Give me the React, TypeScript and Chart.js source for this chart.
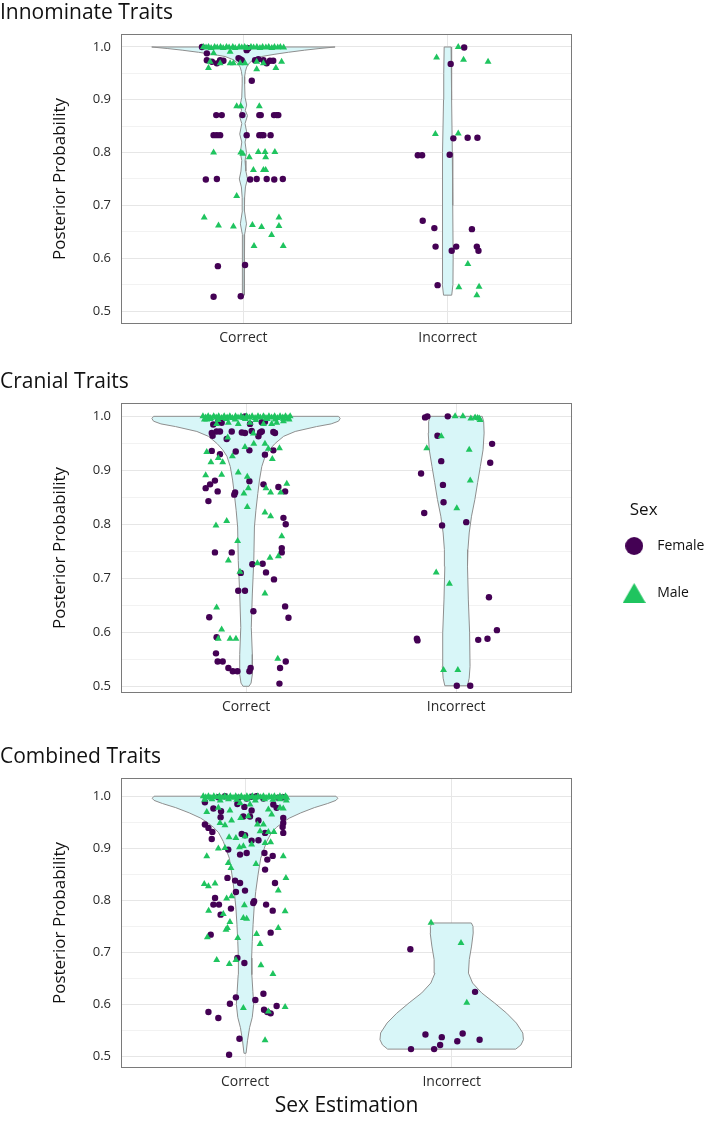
import React, { useEffect, useRef } from 'react';
import { Chart, registerables } from 'chart.js';

Chart.register(...registerables);

const FONT = "'Open Sans', 'Noto Sans', sans-serif";
const CATEGORIES = ['Correct', 'Incorrect'];
const CATEGORY_POS = [1, 2];
const Y_TICKS = [0.5, 0.55, 0.6, 0.65, 0.7, 0.75, 0.8, 0.85, 0.9, 0.95, 1.0];
const SEX_LABELS = ['Female', 'Male'];
const LEGEND_TITLE = 'Sex';
const Y_TITLE = 'Posterior Probability';
const X_TITLE = 'Sex Estimation';
const PANEL_TITLES = ['Innominate Traits', 'Cranial Traits', 'Combined Traits'];

const FEMALE_COLOR = '#440154';
const MALE_COLOR = '#1fc45f';
const VIOLIN_FILL = '#d8f6f8';
const VIOLIN_LINE = '#8e8e8e';
const FRAME_COLOR = '#7a7a7a';
const GRID_MAJOR = '#e6e6e6';
const GRID_MINOR = '#f2f2f2';
const TEXT_COLOR = '#111111';
const TICK_COLOR = '#2a2a2a';

// Violin outlines: [posterior probability, half width in category units], top to bottom
const INN_VIOLIN_CORRECT = [[1.0,0.449],[0.997,0.37],[0.994,0.3],[0.99,0.22],[0.986,0.15],[0.982,0.09],[0.976,0.05],[0.97,0.03],[0.962,0.016],[0.954,0.01],[0.944,0.006],[0.93,0.006],[0.905,0.008],[0.89,0.016],[0.88,0.009],[0.87,0.02],[0.855,0.008],[0.835,0.018],[0.82,0.008],[0.8,0.015],[0.785,0.008],[0.765,0.012],[0.75,0.02],[0.735,0.01],[0.715,0.006],[0.69,0.005],[0.665,0.015],[0.645,0.006],[0.62,0.004],[0.585,0.006],[0.56,0.004],[0.53,0.003]];
const INN_VIOLIN_INCORRECT = [[1.0,0.017],[0.95,0.019],[0.9,0.02],[0.8,0.023],[0.7,0.025],[0.6,0.027],[0.55,0.026],[0.53,0.02]];
const CRA_VIOLIN_CORRECT = [[1.0,0.44],[0.996,0.448],[0.991,0.44],[0.986,0.405],[0.981,0.335],[0.972,0.234],[0.963,0.179],[0.95,0.139],[0.938,0.111],[0.926,0.091],[0.907,0.075],[0.882,0.064],[0.857,0.056],[0.826,0.047],[0.795,0.04],[0.733,0.037],[0.671,0.03],[0.609,0.025],[0.559,0.03],[0.522,0.03],[0.506,0.024],[0.5,0.014]];
const CRA_VIOLIN_INCORRECT = [[1.0,0.124],[0.99,0.131],[0.969,0.133],[0.938,0.128],[0.907,0.115],[0.877,0.102],[0.846,0.089],[0.815,0.073],[0.784,0.062],[0.753,0.056],[0.722,0.054],[0.66,0.058],[0.599,0.064],[0.537,0.066],[0.515,0.062],[0.501,0.054]];
const CMB_VIOLIN_CORRECT = [[1.0,0.44],[0.996,0.449],[0.992,0.44],[0.986,0.4],[0.978,0.335],[0.968,0.27],[0.958,0.215],[0.949,0.18],[0.94,0.152],[0.93,0.128],[0.913,0.105],[0.881,0.076],[0.849,0.063],[0.817,0.052],[0.785,0.044],[0.753,0.039],[0.721,0.035],[0.689,0.032],[0.657,0.033],[0.625,0.038],[0.6,0.042],[0.575,0.035],[0.555,0.022],[0.53,0.012],[0.506,0.005]];
const CMB_VIOLIN_INCORRECT = [[0.7564,0.095],[0.75,0.103],[0.737,0.104],[0.712,0.096],[0.686,0.085],[0.66,0.081],[0.641,0.101],[0.622,0.145],[0.603,0.206],[0.583,0.266],[0.564,0.313],[0.545,0.344],[0.532,0.347],[0.522,0.335],[0.514,0.31]];

// Individuals: [jitter offset from category, posterior probability]
const INN_FEMALE_CORRECT = [[-0.203,1.0],[0.024,0.9975],[0.016,0.994],[-0.179,0.988],[-0.179,0.975],[-0.154,0.972],[-0.13,0.969],[-0.114,0.975],[-0.098,0.974],[-0.024,0.979],[-0.016,0.977],[-0.008,0.975],[0.057,0.975],[0.073,0.977],[0.098,0.975],[0.114,0.969],[0.13,0.974],[0.146,0.974],[0.041,0.936],[-0.133,0.871],[-0.106,0.871],[-0.005,0.871],[0.078,0.871],[0.085,0.871],[0.15,0.871],[0.163,0.871],[0.171,0.871],[-0.146,0.833],[-0.13,0.833],[-0.114,0.833],[0.016,0.833],[0.078,0.833],[0.089,0.833],[0.098,0.833],[0.133,0.833],[-0.184,0.749],[-0.13,0.75],[0.033,0.749],[0.065,0.75],[0.114,0.75],[0.151,0.749],[0.193,0.75],[-0.125,0.585],[0.008,0.587],[-0.146,0.527],[-0.013,0.528]];
const INN_MALE_CORRECT = [[-0.196,1.0],[-0.183,0.999],[-0.171,1.0],[-0.158,0.998],[-0.141,1.0],[-0.128,0.999],[-0.112,1.0],[-0.099,0.998],[-0.083,1.0],[-0.07,0.999],[-0.052,1.0],[-0.04,0.998],[-0.021,1.0],[-0.008,0.999],[0.006,1.0],[0.019,0.998],[0.037,1.0],[0.05,0.999],[0.066,1.0],[0.081,0.998],[0.094,1.0],[0.11,0.999],[0.124,1.0],[0.139,0.998],[0.152,1.0],[0.168,0.999],[0.181,1.0],[0.197,0.999],[-0.146,0.988],[-0.065,0.991],[-0.163,0.972],[-0.114,0.969],[-0.065,0.969],[-0.049,0.969],[-0.016,0.969],[0.008,0.969],[0.065,0.972],[0.098,0.969],[0.187,0.972],[-0.171,0.96],[0.065,0.958],[0.159,0.96],[-0.033,0.888],[-0.013,0.888],[0.078,0.888],[-0.146,0.8],[-0.013,0.8],[-0.003,0.798],[0.073,0.801],[0.106,0.801],[0.154,0.801],[0.029,0.791],[0.109,0.791],[0.049,0.767],[0.098,0.767],[0.109,0.767],[-0.033,0.718],[-0.192,0.677],[0.174,0.677],[-0.122,0.662],[-0.049,0.66],[0.044,0.663],[0.089,0.659],[0.174,0.661],[0.138,0.644],[0.052,0.623],[0.195,0.623]];
const INN_FEMALE_INCORRECT = [[0.081,0.999],[0.015,0.968],[0.028,0.827],[0.098,0.828],[0.146,0.828],[-0.146,0.795],[-0.125,0.795],[0.01,0.796],[-0.122,0.671],[-0.065,0.657],[0.119,0.655],[-0.059,0.622],[0.042,0.622],[0.02,0.614],[0.143,0.622],[0.151,0.614],[-0.049,0.549]];
const INN_MALE_INCORRECT = [[0.052,1.0],[-0.054,0.98],[0.078,0.976],[0.198,0.972],[-0.06,0.835],[0.052,0.836],[0.099,0.589],[0.055,0.545],[0.154,0.546],[0.143,0.53]];

const CRA_FEMALE_CORRECT = [[-0.005,1.0],[0.09,0.99],[-0.156,0.985],[-0.116,0.988],[0.019,0.986],[0.075,0.989],[-0.132,0.991],[-0.163,0.969],[-0.14,0.972],[-0.124,0.972],[-0.068,0.972],[-0.005,0.969],[0.067,0.97],[0.075,0.972],[0.13,0.971],[0.138,0.969],[0.059,0.963],[-0.159,0.964],[-0.092,0.958],[0.027,0.973],[-0.02,0.97],[-0.163,0.936],[-0.124,0.93],[-0.049,0.935],[0.016,0.937],[0.09,0.929],[0.13,0.937],[-0.148,0.881],[-0.171,0.874],[-0.192,0.867],[-0.135,0.861],[-0.179,0.843],[-0.052,0.859],[-0.056,0.855],[0.016,0.88],[0.083,0.874],[0.154,0.869],[0.186,0.861],[0.178,0.812],[0.189,0.8],[-0.148,0.748],[-0.068,0.748],[0.17,0.756],[0.17,0.748],[0.03,0.726],[0.079,0.727],[0.095,0.711],[0.133,0.698],[-0.025,0.71],[-0.037,0.677],[-0.005,0.677],[-0.175,0.628],[0.035,0.639],[0.186,0.648],[0.202,0.627],[-0.14,0.591],[-0.143,0.561],[-0.135,0.546],[-0.111,0.546],[-0.084,0.534],[-0.063,0.528],[-0.041,0.528],[0.016,0.528],[0.022,0.534],[0.189,0.546],[0.162,0.534],[0.159,0.505]];
const CRA_MALE_CORRECT = [[-0.205,1.0],[-0.192,0.998],[-0.18,1.0],[-0.168,0.997],[-0.154,1.0],[-0.142,0.998],[-0.13,1.0],[-0.116,0.997],[-0.104,1.0],[-0.09,0.998],[-0.077,1.0],[-0.065,0.997],[-0.05,1.0],[-0.038,0.998],[-0.024,1.0],[-0.012,0.997],[0.003,1.0],[0.016,0.998],[0.029,1.0],[0.043,0.997],[0.057,1.0],[0.068,0.998],[0.083,1.0],[0.095,0.997],[0.109,1.0],[0.122,0.998],[0.136,1.0],[0.149,0.997],[0.162,1.0],[0.175,0.998],[0.188,1.0],[0.2,0.997],[0.21,1.0],[-0.198,0.994],[-0.171,0.995],[-0.133,0.993],[-0.094,0.995],[-0.052,0.994],[-0.003,0.995],[0.047,0.993],[0.101,0.995],[0.139,0.994],[0.178,0.995],[0.205,0.994],[-0.187,0.994],[-0.14,0.986],[-0.084,0.988],[-0.037,0.986],[0.019,0.988],[0.083,0.986],[0.122,0.986],[0.146,0.988],[0.178,0.991],[0.035,0.968],[-0.087,0.961],[-0.187,0.934],[-0.065,0.926],[-0.005,0.943],[0.037,0.949],[0.09,0.949],[0.106,0.94],[0.159,0.941],[0.125,0.921],[-0.167,0.915],[-0.132,0.923],[-0.111,0.915],[-0.192,0.891],[-0.116,0.892],[-0.037,0.896],[0.006,0.888],[-0.01,0.857],[0.011,0.867],[0.095,0.867],[0.117,0.859],[0.165,0.859],[0.194,0.875],[0.006,0.832],[0.09,0.822],[0.117,0.815],[-0.143,0.798],[-0.092,0.806],[-0.04,0.769],[0.17,0.778],[-0.084,0.733],[0.154,0.741],[0.114,0.738],[0.054,0.728],[-0.029,0.712],[0.09,0.672],[-0.14,0.646],[-0.116,0.605],[-0.132,0.588],[-0.076,0.588],[-0.048,0.588],[0.151,0.551]];
const CRA_FEMALE_INCORRECT = [[-0.148,0.998],[-0.137,1.0],[-0.04,1.0],[-0.089,0.964],[0.171,0.949],[0.162,0.914],[-0.071,0.917],[-0.167,0.894],[-0.063,0.873],[-0.06,0.841],[-0.152,0.821],[-0.067,0.798],[0.048,0.804],[0.156,0.665],[0.194,0.604],[0.149,0.588],[0.105,0.586],[-0.187,0.588],[-0.184,0.585],[0.003,0.501],[0.067,0.501]];
const CRA_MALE_INCORRECT = [[-0.005,1.0],[0.032,1.0],[0.07,0.996],[0.09,0.998],[0.102,0.997],[0.11,0.996],[0.114,0.993],[-0.071,0.963],[-0.14,0.941],[0.062,0.938],[0.067,0.881],[0.003,0.83],[-0.095,0.711],[-0.032,0.69],[-0.06,0.53],[0.008,0.53]];

const CMB_FEMALE_CORRECT = [[-0.129,0.998],[-0.097,1.0],[-0.032,0.997],[0.008,0.9955],[0.032,0.999],[0.056,1.0],[0.089,0.9955],[0.161,0.997],[0.185,0.998],[-0.194,0.9885],[-0.153,0.9763],[-0.116,0.9712],[-0.037,0.985],[-0.003,0.9795],[0.032,0.9724],[0.137,0.984],[0.153,0.9776],[-0.118,0.9596],[-0.008,0.9609],[0.024,0.9609],[0.065,0.9532],[0.185,0.9583],[0.185,0.9487],[0.182,0.941],[-0.194,0.9455],[-0.177,0.9391],[-0.158,0.9314],[-0.161,0.9179],[-0.016,0.9276],[0.032,0.9147],[0.065,0.9154],[0.097,0.9295],[0.185,0.9295],[0.0,0.925],[-0.081,0.8974],[-0.024,0.8878],[0.008,0.891],[0.094,0.891],[0.108,0.8782],[0.134,0.8853],[-0.085,0.843],[-0.048,0.8378],[-0.024,0.8333],[-0.044,0.816],[0.0,0.8186],[0.097,0.859],[0.145,0.8333],[-0.145,0.8045],[-0.153,0.7917],[-0.126,0.7917],[-0.068,0.784],[0.044,0.7981],[0.04,0.7949],[-0.118,0.7724],[0.102,0.7917],[0.134,0.7801],[-0.166,0.734],[0.124,0.7378],[-0.037,0.6891],[-0.003,0.6795],[-0.044,0.6135],[-0.073,0.6013],[0.089,0.6205],[0.05,0.6083],[0.153,0.5968],[0.092,0.5897],[0.108,0.5853],[0.124,0.5827],[-0.177,0.5853],[-0.129,0.5737],[-0.027,0.534],[-0.077,0.5032]];
const CMB_MALE_CORRECT = [[-0.202,1.0],[-0.19,0.998],[-0.177,1.0],[-0.165,0.997],[-0.151,1.0],[-0.138,0.998],[-0.124,1.0],[-0.111,0.997],[-0.098,1.0],[-0.085,0.998],[-0.071,1.0],[-0.058,0.997],[-0.045,1.0],[-0.031,0.998],[-0.018,1.0],[-0.004,0.997],[0.009,1.0],[0.022,0.998],[0.036,1.0],[0.049,0.997],[0.062,1.0],[0.076,0.998],[0.089,1.0],[0.102,0.997],[0.116,1.0],[0.129,0.998],[0.142,1.0],[0.156,0.997],[0.169,1.0],[0.182,0.998],[0.196,1.0],[0.202,0.997],[-0.195,0.993],[-0.16,0.994],[-0.12,0.992],[-0.08,0.994],[-0.04,0.993],[0.01,0.994],[0.05,0.992],[0.095,0.994],[0.135,0.993],[0.17,0.994],[0.2,0.992],[-0.185,0.9699],[-0.129,0.9776],[-0.073,0.9724],[-0.024,0.987],[0.024,0.984],[0.113,0.9744],[0.169,0.9776],[0.185,0.9763],[0.129,0.9647],[-0.121,0.9487],[-0.097,0.9442],[-0.065,0.9532],[-0.021,0.9583],[0.016,0.9615],[0.06,0.9455],[0.089,0.9455],[0.14,0.9314],[0.113,0.9314],[-0.077,0.9212],[-0.044,0.9199],[0.0,0.9231],[0.032,0.907],[0.073,0.9327],[0.097,0.9103],[0.124,0.9115],[-0.129,0.8994],[-0.097,0.9006],[-0.027,0.9019],[-0.008,0.9038],[-0.081,0.8718],[-0.068,0.8622],[0.053,0.8699],[0.185,0.8846],[-0.185,0.8846],[-0.197,0.8314],[-0.177,0.8269],[-0.145,0.8321],[0.198,0.843],[0.161,0.8186],[-0.089,0.8032],[-0.065,0.8077],[-0.003,0.7904],[-0.176,0.7801],[-0.105,0.7737],[-0.073,0.7583],[0.008,0.7647],[-0.008,0.766],[0.194,0.7788],[-0.085,0.7468],[-0.092,0.7436],[-0.182,0.7288],[-0.035,0.7276],[0.056,0.7353],[0.073,0.716],[0.161,0.7468],[-0.137,0.6853],[-0.076,0.6776],[-0.044,0.6853],[0.077,0.675],[0.135,0.6583],[-0.008,0.5929],[0.194,0.5949],[0.113,0.5865],[0.097,0.5308]];
const CMB_FEMALE_INCORRECT = [[-0.2,0.706],[0.113,0.624],[-0.127,0.542],[-0.048,0.537],[0.053,0.544],[0.027,0.529],[-0.056,0.522],[0.135,0.532],[-0.197,0.514],[-0.085,0.514]];
const CMB_MALE_INCORRECT = [[-0.1,0.757],[0.045,0.718],[0.073,0.603]];

const PAGE_W = 709;
const PLOT_RIGHT = 572;
const Y_AXIS_WIDTH = 121;
const LEGEND_GAP = 13;

const PANELS = [
  { title: PANEL_TITLES[0], vc: INN_VIOLIN_CORRECT, vi: INN_VIOLIN_INCORRECT, fc: INN_FEMALE_CORRECT, fi: INN_FEMALE_INCORRECT, mc: INN_MALE_CORRECT, mi: INN_MALE_INCORRECT,
    xMin: 0.4006, xMax: 2.609, yMin: 0.4754, yMax: 1.0246, top: 0, height: 350, titlePadTop: 2.5, xAxisHeight: 26, xTitle: false, legend: false },
  { title: PANEL_TITLES[1], vc: CRA_VIOLIN_CORRECT, vi: CRA_VIOLIN_INCORRECT, fc: CRA_FEMALE_CORRECT, fi: CRA_FEMALE_INCORRECT, mc: CRA_MALE_CORRECT, mi: CRA_MALE_INCORRECT,
    xMin: 0.405, xMax: 2.552, yMin: 0.4876, yMax: 1.0247, top: 350, height: 370, titlePadTop: 21.5, xAxisHeight: 27, xTitle: false, legend: true },
  { title: PANEL_TITLES[2], vc: CMB_VIOLIN_CORRECT, vi: CMB_VIOLIN_INCORRECT, fc: CMB_FEMALE_CORRECT, fi: CMB_FEMALE_INCORRECT, mc: CMB_MALE_CORRECT, mi: CMB_MALE_INCORRECT,
    xMin: 0.4, xMax: 2.582, yMin: 0.4777, yMax: 1.035, top: 720, height: 407, titlePadTop: 26.5, xAxisHeight: 59, xTitle: true, legend: false },
];

function violinPolygon(center: number, outline: number[][]) {
  const right = outline.map(([y, w]) => ({ x: center + w, y }));
  const left = outline.slice().reverse().map(([y, w]) => ({ x: center - w, y }));
  return [...right, ...left, right[0]];
}

function placePoints(correct: number[][], incorrect: number[][]) {
  return [
    ...correct.map(([dx, y]) => ({ x: CATEGORY_POS[0] + dx, y })),
    ...incorrect.map(([dx, y]) => ({ x: CATEGORY_POS[1] + dx, y })),
  ];
}

const isMajor = (v: number) => Math.abs(v * 10 - Math.round(v * 10)) < 1e-6;

const framePlugin = {
  id: 'plotFrame',
  afterDatasetsDraw(chart: any) {
    const { ctx, chartArea: a } = chart;
    ctx.save();
    ctx.strokeStyle = FRAME_COLOR;
    ctx.lineWidth = 1;
    ctx.strokeRect(Math.round(a.left) + 0.5, Math.round(a.top) + 0.5, Math.round(a.right - a.left) - 1, Math.round(a.bottom - a.top) - 1);
    ctx.restore();
  },
};

// lets the legend labels use the free space up to the canvas edge
const legendRoomPlugin = {
  id: 'legendRoom',
  beforeDraw(chart: any) {
    if (chart.legend && chart.legend.options && chart.legend.options.display) {
      chart.legend.right = chart.width;
    }
  },
};

function makeCircleMarker(color: string, d: number) {
  const c = document.createElement('canvas');
  c.width = d; c.height = d;
  const g = c.getContext('2d')!;
  g.fillStyle = color;
  g.beginPath();
  g.arc(d / 2, d / 2, d / 2, 0, Math.PI * 2);
  g.fill();
  return c;
}

function makeTriangleMarker(color: string, w: number, h: number) {
  const c = document.createElement('canvas');
  c.width = w; c.height = h;
  const g = c.getContext('2d')!;
  g.fillStyle = color;
  g.beginPath();
  g.moveTo(w / 2, 0);
  g.lineTo(w, h);
  g.lineTo(0, h);
  g.closePath();
  g.fill();
  return c;
}

function buildConfig(p: any, markers: any): any {
  const datasets: any[] = [
    { label: 'Violin Correct', data: violinPolygon(CATEGORY_POS[0], p.vc), showLine: true, fill: 'shape', backgroundColor: VIOLIN_FILL, borderColor: VIOLIN_LINE, borderWidth: 1, pointRadius: 0, pointHoverRadius: 0, tension: 0, order: 3 },
    { label: 'Violin Incorrect', data: violinPolygon(CATEGORY_POS[1], p.vi), showLine: true, fill: 'shape', backgroundColor: VIOLIN_FILL, borderColor: VIOLIN_LINE, borderWidth: 1, pointRadius: 0, pointHoverRadius: 0, tension: 0, order: 2 },
    { label: SEX_LABELS[0], data: placePoints(p.fc, p.fi), pointStyle: 'circle', pointRadius: 3.2, backgroundColor: FEMALE_COLOR, borderWidth: 0, order: 1 },
    { label: SEX_LABELS[1], data: placePoints(p.mc, p.mi), pointStyle: 'triangle', pointRadius: 4, backgroundColor: MALE_COLOR, borderWidth: 0, order: 0 },
  ];

  const scales: any = {
    x: {
      type: 'linear', min: p.xMin, max: p.xMax,
      afterBuildTicks: (s: any) => { s.ticks = CATEGORY_POS.map((v) => ({ value: v })); },
      afterFit: (s: any) => { s.height = p.xAxisHeight; },
      ticks: {
        callback: (v: number) => CATEGORIES[CATEGORY_POS.indexOf(v)] ?? '',
        font: { family: FONT, size: 14 }, color: TICK_COLOR, padding: 6, maxRotation: 0, autoSkip: false,
      },
      grid: { color: GRID_MAJOR, drawTicks: false, lineWidth: 1 },
      border: { display: false },
      title: p.xTitle
        ? { display: true, text: X_TITLE, font: { family: FONT, size: 21 }, color: TEXT_COLOR, padding: { top: 0, bottom: 8.4 } }
        : { display: false },
    },
    y: {
      type: 'linear', min: p.yMin, max: p.yMax,
      afterBuildTicks: (s: any) => { s.ticks = Y_TICKS.map((v) => ({ value: v })); },
      afterFit: (s: any) => { s.width = Y_AXIS_WIDTH; },
      ticks: {
        callback: (v: number) => (isMajor(v) ? v.toFixed(1) : ''),
        font: { family: FONT, size: 13 }, color: TICK_COLOR, padding: 10, autoSkip: false,
      },
      grid: {
        color: (ctx: any) => (ctx.tick && isMajor(ctx.tick.value) ? GRID_MAJOR : GRID_MINOR),
        drawTicks: false, lineWidth: 1,
      },
      border: { display: false },
      title: { display: true, text: Y_TITLE, font: { family: FONT, size: 17 }, color: TEXT_COLOR, padding: { top: 50, bottom: 0 } },
    },
  };

  if (p.legend) {
    scales.gap = {
      type: 'linear', position: 'right', display: true,
      grid: { display: false }, border: { display: false }, ticks: { display: false },
      afterFit: (s: any) => { s.width = LEGEND_GAP; },
    };
  }

  return {
    type: 'scatter',
    data: { datasets },
    options: {
      responsive: false,
      maintainAspectRatio: false,
      animation: false,
      events: [],
      layout: { padding: { left: 0, right: p.legend ? 0 : PAGE_W - PLOT_RIGHT, top: 0, bottom: 0 } },
      plugins: {
        tooltip: { enabled: false },
        title: {
          display: true, text: p.title, align: 'start', color: TEXT_COLOR,
          font: { family: FONT, size: 21, weight: 'normal', lineHeight: 1 },
          padding: { top: p.titlePadTop, bottom: 10.5 },
        },
        legend: p.legend
          ? {
              display: true, position: 'right', align: 'start',
              title: {
                display: true, text: LEGEND_TITLE, position: 'center', color: TEXT_COLOR,
                font: { family: FONT, size: 17, lineHeight: 1 },
                padding: { top: 151.5, bottom: -12.5 },
              },
              labels: {
                usePointStyle: true, pointStyleWidth: 32, boxHeight: 14, padding: 33,
                font: { family: FONT, size: 14 }, color: TEXT_COLOR,
                generateLabels: () => [
                  { text: SEX_LABELS[0], pointStyle: markers.female, fillStyle: FEMALE_COLOR, strokeStyle: FEMALE_COLOR, lineWidth: 0, hidden: false, datasetIndex: 2, rotation: 0 },
                  { text: SEX_LABELS[1], pointStyle: markers.male, fillStyle: MALE_COLOR, strokeStyle: MALE_COLOR, lineWidth: 0, hidden: false, datasetIndex: 3, rotation: 0 },
                ],
              },
            }
          : { display: false },
      },
      scales,
    },
    plugins: [framePlugin, legendRoomPlugin],
  };
}

export default function App() {
  const refs = [useRef<HTMLCanvasElement>(null), useRef<HTMLCanvasElement>(null), useRef<HTMLCanvasElement>(null)];

  useEffect(() => {
    document.body.style.margin = '0';
    document.body.style.background = '#ffffff';
    const markers = { female: makeCircleMarker(FEMALE_COLOR, 18), male: makeTriangleMarker(MALE_COLOR, 23, 20) };
    const charts = PANELS.map((p, i) => {
      const chart = new Chart(refs[i].current!, buildConfig(p, markers));
      for (let k = 0; k < 2; k++) {
        const diff = chart.chartArea.right - PLOT_RIGHT;
        if (Math.abs(diff) <= 0.25) break;
        const cur = (chart.options as any).layout.padding;
        const curRight = typeof cur === 'object' && cur ? Number(cur.right) || 0 : Number(cur) || 0;
        (chart.options as any).layout.padding = { left: 0, top: 0, bottom: 0, right: curRight + diff };
        chart.update();
      }
      return chart;
    });
    return () => charts.forEach((c) => c.destroy());
  }, []);

  return (
    <div style={{ position: 'relative', width: PAGE_W, height: 1127, background: '#ffffff' }}>
      {PANELS.map((p, i) => (
        <canvas
          key={i}
          ref={refs[i]}
          width={PAGE_W}
          height={p.height}
          style={{ position: 'absolute', left: 0, top: p.top, width: PAGE_W, height: p.height, display: 'block' }}
        />
      ))}
    </div>
  );
}
